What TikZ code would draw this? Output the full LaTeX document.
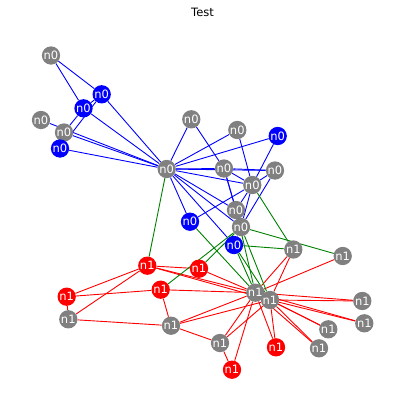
\documentclass[tikz,border=0pt]{standalone}
\usepackage{fontspec}
\setmainfont{DejaVu Sans}
\pgfdeclarelayer{bg}
\pgfsetlayers{bg,main}
\definecolor{ngray}{RGB}{128,128,128}
\definecolor{nblue}{RGB}{0,0,255}
\definecolor{nred}{RGB}{255,0,0}
\definecolor{egreen}{RGB}{0,128,0}
\begin{document}
\begin{tikzpicture}[x=1pt,y=-1pt,
  vert/.style={circle,inner sep=0pt,minimum size=18.3pt,text=white,font=\fontsize{11.5}{11.5}\selectfont},
  eblue/.style={draw=nblue,line width=0.9pt},
  ered/.style={draw=nred,line width=0.9pt},
  egrn/.style={draw=egreen,line width=0.9pt}]
\useasboundingbox (0,0) rectangle (404,410);
\node[font=\fontsize{11.5}{12}\selectfont] (title) at (202.5,12.5) {Test};
\foreach \i/\x/\y/\c/\l in {
  0/166.7/169/ngray/n0, 1/252.3/185/ngray/n0, 13/236/210/ngray/n0, 2/241/227/ngray/n0,
  3/224/168.5/ngray/n0, 4/64/132.5/ngray/n0, 5/101.7/94.3/nblue/n0, 6/83.5/108.3/nblue/n0,
  7/275/170.5/ngray/n0, 8/234/245/nblue/n0, 9/342.7/256/ngray/n1, 10/60/148.5/nblue/n0,
  11/41/120/ngray/n0, 12/191.3/119.3/ngray/n0, 14/362.3/301/ngray/n1, 15/364.3/323.3/ngray/n1,
  16/51/55.5/ngray/n0, 17/237.3/130/ngray/n0, 18/328.3/329.3/ngray/n1, 19/190/221.7/nblue/n0,
  20/319/348.3/ngray/n1, 21/277.7/136/nblue/n0, 22/276/347.3/nred/n1, 23/171/325.7/ngray/n1,
  24/66.7/296.7/nred/n1, 25/68.3/319.3/ngray/n1, 26/232/369.7/nred/n1, 27/160.7/289.7/nred/n1,
  28/199/268.7/nred/n1, 29/220/343/ngray/n1, 30/293.3/249.5/ngray/n1, 31/147.3/265.7/nred/n1,
  33/255.3/292.7/ngray/n1, 32/270/300/ngray/n1}
  \node[vert,fill=\c] (v\i) at (\x,\y) {\l};
\begin{pgfonlayer}{bg}
\foreach \a/\b in {0/1,0/2,0/3,0/4,0/5,0/6,0/7,0/8,0/10,0/11,0/12,0/13,0/17,0/19,0/21,
  1/2,1/3,1/7,1/13,1/17,1/19,1/21,2/3,2/7,2/8,2/13,3/7,3/12,3/13,4/6,4/10,5/6,5/10,5/16,6/16}
  \draw[eblue] (v\a) -- (v\b);
\foreach \a/\b in {9/33,14/32,14/33,15/32,15/33,18/32,18/33,20/32,20/33,22/32,22/33,
  23/25,23/27,23/29,23/32,23/33,24/25,24/27,24/31,25/31,26/29,26/33,27/33,28/31,28/33,
  29/32,29/33,30/32,30/33,31/32,31/33,32/33}
  \draw[ered] (v\a) -- (v\b);
\foreach \a/\b in {0/31,1/30,2/9,2/27,2/28,2/32,8/30,8/32,8/33,13/33,19/33}
  \draw[egrn] (v\a) -- (v\b);
\end{pgfonlayer}
\end{tikzpicture}
\end{document}
